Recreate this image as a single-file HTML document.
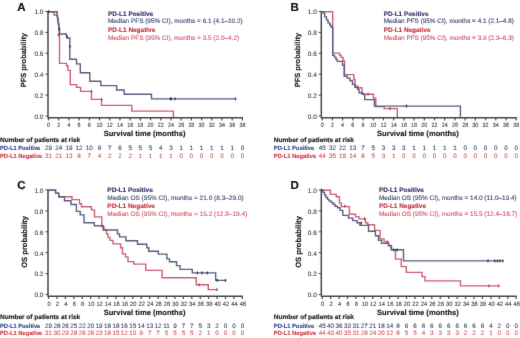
<!DOCTYPE html>
<html><head><meta charset="utf-8"><style>
html,body{margin:0;padding:0;background:#fff;width:520px;height:338px;overflow:hidden}
svg{display:block;font-family:"Liberation Sans", sans-serif;text-rendering:geometricPrecision;will-change:transform}
</style></head><body>
<svg width="520" height="338" viewBox="0 0 520 338"><defs><filter id="soft" x="0" y="0" width="520" height="338" filterUnits="userSpaceOnUse" color-interpolation-filters="sRGB"><feConvolveMatrix order="3" kernelMatrix="0.0052 0.0619 0.0052 0.0619 0.7314 0.0619 0.0052 0.0619 0.0052" edgeMode="duplicate"/></filter></defs><g filter="url(#soft)" font-family='"Liberation Sans", sans-serif'>
<rect width="520" height="338" fill="#fff"/>
<text x="17.2" y="11.3" font-size="11.5" fill="#111" stroke="#111" stroke-width="0.2" font-weight="bold">A</text>
<text transform="translate(26.2 60.1) rotate(-90)" font-size="7.4" font-weight="bold" fill="#1a1a1a" stroke="#1a1a1a" stroke-width="0.16" text-anchor="middle">PFS probability</text>
<path d="M48 10.9V117.2" stroke="#464646" stroke-width="1.5" fill="none"/>
<path d="M45.4 116H48" stroke="#464646" stroke-width="1" fill="none"/>
<text x="43.5" y="118.8" font-size="6.5" fill="#404040" stroke="#404040" stroke-width="0.1" text-anchor="end">0.0</text>
<path d="M45.4 95.1H48" stroke="#464646" stroke-width="1" fill="none"/>
<text x="43.5" y="97.9" font-size="6.5" fill="#404040" stroke="#404040" stroke-width="0.1" text-anchor="end">0.2</text>
<path d="M45.4 74.2H48" stroke="#464646" stroke-width="1" fill="none"/>
<text x="43.5" y="77" font-size="6.5" fill="#404040" stroke="#404040" stroke-width="0.1" text-anchor="end">0.4</text>
<path d="M45.4 53.3H48" stroke="#464646" stroke-width="1" fill="none"/>
<text x="43.5" y="56.1" font-size="6.5" fill="#404040" stroke="#404040" stroke-width="0.1" text-anchor="end">0.6</text>
<path d="M45.4 32.4H48" stroke="#464646" stroke-width="1" fill="none"/>
<text x="43.5" y="35.2" font-size="6.5" fill="#404040" stroke="#404040" stroke-width="0.1" text-anchor="end">0.8</text>
<path d="M45.4 11.5H48" stroke="#464646" stroke-width="1" fill="none"/>
<text x="43.5" y="14.3" font-size="6.5" fill="#404040" stroke="#404040" stroke-width="0.1" text-anchor="end">1.0</text>
<path d="M47.4 117.8H243" stroke="#464646" stroke-width="1.4" fill="none"/>
<path d="M48.5 117.8V120.4" stroke="#464646" stroke-width="1.2" fill="none"/>
<text transform="translate(48.5 127.1) scale(0.87 1)" font-size="6.2" fill="#404040" stroke="#404040" stroke-width="0.1" text-anchor="middle">0</text>
<path d="M58.71 117.8V120.4" stroke="#464646" stroke-width="1.2" fill="none"/>
<text transform="translate(58.71 127.1) scale(0.87 1)" font-size="6.2" fill="#404040" stroke="#404040" stroke-width="0.1" text-anchor="middle">2</text>
<path d="M68.91 117.8V120.4" stroke="#464646" stroke-width="1.2" fill="none"/>
<text transform="translate(68.91 127.1) scale(0.87 1)" font-size="6.2" fill="#404040" stroke="#404040" stroke-width="0.1" text-anchor="middle">4</text>
<path d="M79.12 117.8V120.4" stroke="#464646" stroke-width="1.2" fill="none"/>
<text transform="translate(79.12 127.1) scale(0.87 1)" font-size="6.2" fill="#404040" stroke="#404040" stroke-width="0.1" text-anchor="middle">6</text>
<path d="M89.32 117.8V120.4" stroke="#464646" stroke-width="1.2" fill="none"/>
<text transform="translate(89.32 127.1) scale(0.87 1)" font-size="6.2" fill="#404040" stroke="#404040" stroke-width="0.1" text-anchor="middle">8</text>
<path d="M99.53 117.8V120.4" stroke="#464646" stroke-width="1.2" fill="none"/>
<text transform="translate(99.53 127.1) scale(0.87 1)" font-size="6.2" fill="#404040" stroke="#404040" stroke-width="0.1" text-anchor="middle">10</text>
<path d="M109.73 117.8V120.4" stroke="#464646" stroke-width="1.2" fill="none"/>
<text transform="translate(109.73 127.1) scale(0.87 1)" font-size="6.2" fill="#404040" stroke="#404040" stroke-width="0.1" text-anchor="middle">12</text>
<path d="M119.94 117.8V120.4" stroke="#464646" stroke-width="1.2" fill="none"/>
<text transform="translate(119.94 127.1) scale(0.87 1)" font-size="6.2" fill="#404040" stroke="#404040" stroke-width="0.1" text-anchor="middle">14</text>
<path d="M130.14 117.8V120.4" stroke="#464646" stroke-width="1.2" fill="none"/>
<text transform="translate(130.14 127.1) scale(0.87 1)" font-size="6.2" fill="#404040" stroke="#404040" stroke-width="0.1" text-anchor="middle">16</text>
<path d="M140.35 117.8V120.4" stroke="#464646" stroke-width="1.2" fill="none"/>
<text transform="translate(140.35 127.1) scale(0.87 1)" font-size="6.2" fill="#404040" stroke="#404040" stroke-width="0.1" text-anchor="middle">18</text>
<path d="M150.55 117.8V120.4" stroke="#464646" stroke-width="1.2" fill="none"/>
<text transform="translate(150.55 127.1) scale(0.87 1)" font-size="6.2" fill="#404040" stroke="#404040" stroke-width="0.1" text-anchor="middle">20</text>
<path d="M160.76 117.8V120.4" stroke="#464646" stroke-width="1.2" fill="none"/>
<text transform="translate(160.76 127.1) scale(0.87 1)" font-size="6.2" fill="#404040" stroke="#404040" stroke-width="0.1" text-anchor="middle">22</text>
<path d="M170.96 117.8V120.4" stroke="#464646" stroke-width="1.2" fill="none"/>
<text transform="translate(170.96 127.1) scale(0.87 1)" font-size="6.2" fill="#404040" stroke="#404040" stroke-width="0.1" text-anchor="middle">24</text>
<path d="M181.17 117.8V120.4" stroke="#464646" stroke-width="1.2" fill="none"/>
<text transform="translate(181.17 127.1) scale(0.87 1)" font-size="6.2" fill="#404040" stroke="#404040" stroke-width="0.1" text-anchor="middle">26</text>
<path d="M191.37 117.8V120.4" stroke="#464646" stroke-width="1.2" fill="none"/>
<text transform="translate(191.37 127.1) scale(0.87 1)" font-size="6.2" fill="#404040" stroke="#404040" stroke-width="0.1" text-anchor="middle">28</text>
<path d="M201.58 117.8V120.4" stroke="#464646" stroke-width="1.2" fill="none"/>
<text transform="translate(201.58 127.1) scale(0.87 1)" font-size="6.2" fill="#404040" stroke="#404040" stroke-width="0.1" text-anchor="middle">30</text>
<path d="M211.78 117.8V120.4" stroke="#464646" stroke-width="1.2" fill="none"/>
<text transform="translate(211.78 127.1) scale(0.87 1)" font-size="6.2" fill="#404040" stroke="#404040" stroke-width="0.1" text-anchor="middle">32</text>
<path d="M221.99 117.8V120.4" stroke="#464646" stroke-width="1.2" fill="none"/>
<text transform="translate(221.99 127.1) scale(0.87 1)" font-size="6.2" fill="#404040" stroke="#404040" stroke-width="0.1" text-anchor="middle">34</text>
<path d="M232.19 117.8V120.4" stroke="#464646" stroke-width="1.2" fill="none"/>
<text transform="translate(232.19 127.1) scale(0.87 1)" font-size="6.2" fill="#404040" stroke="#404040" stroke-width="0.1" text-anchor="middle">36</text>
<path d="M242.4 117.8V120.4" stroke="#464646" stroke-width="1.2" fill="none"/>
<text transform="translate(242.4 127.1) scale(0.87 1)" font-size="6.2" fill="#404040" stroke="#404040" stroke-width="0.1" text-anchor="middle">38</text>
<text x="144.6" y="136.2" font-size="7.6" fill="#1a1a1a" stroke="#1a1a1a" stroke-width="0.16" font-weight="bold" text-anchor="middle">Survival time (months)</text>
<text x="108" y="15.6" font-size="6.45" fill="#2d3266" stroke="#2d3266" stroke-width="0.12" font-weight="bold">PD-L1 Positive</text>
<text x="108" y="23.3" font-size="6.45" fill="#3e4472" stroke="#3e4472" stroke-width="0.12">Median PFS (95% CI), months = 6.1 (4.1–10.2)</text>
<text x="108" y="32" font-size="6.45" fill="#c2303e" stroke="#c2303e" stroke-width="0.12" font-weight="bold">PD-L1 Negative</text>
<text x="108" y="39.6" font-size="6.45" fill="#d25466" stroke="#d25466" stroke-width="0.12">Median PFS (95% CI), months = 3.5 (2.0–4.2)</text>
<text x="0" y="141.8" font-size="6.5" fill="#1a1a1a" stroke="#1a1a1a" stroke-width="0.16" font-weight="bold">Number of patients at risk</text>
<text x="0" y="150.1" font-size="6.1" fill="#34408a" stroke="#34408a" stroke-width="0.12" font-weight="bold" textLength="40.3" lengthAdjust="spacingAndGlyphs">PD-L1 Positive</text>
<text x="0" y="157.9" font-size="6.1" fill="#cc3444" stroke="#cc3444" stroke-width="0.12" font-weight="bold" textLength="42.3" lengthAdjust="spacingAndGlyphs">PD-L1 Negative</text>
<text x="48.5" y="150.2" font-size="6.3" fill="#3e4472" stroke="#3e4472" stroke-width="0.1" text-anchor="middle">29</text>
<text x="48.5" y="158" font-size="6.3" fill="#d25466" stroke="#d25466" stroke-width="0.1" text-anchor="middle">31</text>
<text x="58.71" y="150.2" font-size="6.3" fill="#3e4472" stroke="#3e4472" stroke-width="0.1" text-anchor="middle">24</text>
<text x="58.71" y="158" font-size="6.3" fill="#d25466" stroke="#d25466" stroke-width="0.1" text-anchor="middle">21</text>
<text x="68.91" y="150.2" font-size="6.3" fill="#3e4472" stroke="#3e4472" stroke-width="0.1" text-anchor="middle">19</text>
<text x="68.91" y="158" font-size="6.3" fill="#d25466" stroke="#d25466" stroke-width="0.1" text-anchor="middle">13</text>
<text x="79.12" y="150.2" font-size="6.3" fill="#3e4472" stroke="#3e4472" stroke-width="0.1" text-anchor="middle">12</text>
<text x="79.12" y="158" font-size="6.3" fill="#d25466" stroke="#d25466" stroke-width="0.1" text-anchor="middle">8</text>
<text x="89.32" y="150.2" font-size="6.3" fill="#3e4472" stroke="#3e4472" stroke-width="0.1" text-anchor="middle">10</text>
<text x="89.32" y="158" font-size="6.3" fill="#d25466" stroke="#d25466" stroke-width="0.1" text-anchor="middle">7</text>
<text x="99.53" y="150.2" font-size="6.3" fill="#3e4472" stroke="#3e4472" stroke-width="0.1" text-anchor="middle">8</text>
<text x="99.53" y="158" font-size="6.3" fill="#d25466" stroke="#d25466" stroke-width="0.1" text-anchor="middle">4</text>
<text x="109.73" y="150.2" font-size="6.3" fill="#3e4472" stroke="#3e4472" stroke-width="0.1" text-anchor="middle">7</text>
<text x="109.73" y="158" font-size="6.3" fill="#d25466" stroke="#d25466" stroke-width="0.1" text-anchor="middle">2</text>
<text x="119.94" y="150.2" font-size="6.3" fill="#3e4472" stroke="#3e4472" stroke-width="0.1" text-anchor="middle">6</text>
<text x="119.94" y="158" font-size="6.3" fill="#d25466" stroke="#d25466" stroke-width="0.1" text-anchor="middle">2</text>
<text x="130.14" y="150.2" font-size="6.3" fill="#3e4472" stroke="#3e4472" stroke-width="0.1" text-anchor="middle">5</text>
<text x="130.14" y="158" font-size="6.3" fill="#d25466" stroke="#d25466" stroke-width="0.1" text-anchor="middle">2</text>
<text x="140.35" y="150.2" font-size="6.3" fill="#3e4472" stroke="#3e4472" stroke-width="0.1" text-anchor="middle">5</text>
<text x="140.35" y="158" font-size="6.3" fill="#d25466" stroke="#d25466" stroke-width="0.1" text-anchor="middle">1</text>
<text x="150.55" y="150.2" font-size="6.3" fill="#3e4472" stroke="#3e4472" stroke-width="0.1" text-anchor="middle">5</text>
<text x="150.55" y="158" font-size="6.3" fill="#d25466" stroke="#d25466" stroke-width="0.1" text-anchor="middle">1</text>
<text x="160.76" y="150.2" font-size="6.3" fill="#3e4472" stroke="#3e4472" stroke-width="0.1" text-anchor="middle">4</text>
<text x="160.76" y="158" font-size="6.3" fill="#d25466" stroke="#d25466" stroke-width="0.1" text-anchor="middle">1</text>
<text x="170.96" y="150.2" font-size="6.3" fill="#3e4472" stroke="#3e4472" stroke-width="0.1" text-anchor="middle">3</text>
<text x="170.96" y="158" font-size="6.3" fill="#d25466" stroke="#d25466" stroke-width="0.1" text-anchor="middle">1</text>
<text x="181.17" y="150.2" font-size="6.3" fill="#3e4472" stroke="#3e4472" stroke-width="0.1" text-anchor="middle">1</text>
<text x="181.17" y="158" font-size="6.3" fill="#d25466" stroke="#d25466" stroke-width="0.1" text-anchor="middle">0</text>
<text x="191.37" y="150.2" font-size="6.3" fill="#3e4472" stroke="#3e4472" stroke-width="0.1" text-anchor="middle">1</text>
<text x="191.37" y="158" font-size="6.3" fill="#d25466" stroke="#d25466" stroke-width="0.1" text-anchor="middle">0</text>
<text x="201.58" y="150.2" font-size="6.3" fill="#3e4472" stroke="#3e4472" stroke-width="0.1" text-anchor="middle">1</text>
<text x="201.58" y="158" font-size="6.3" fill="#d25466" stroke="#d25466" stroke-width="0.1" text-anchor="middle">0</text>
<text x="211.78" y="150.2" font-size="6.3" fill="#3e4472" stroke="#3e4472" stroke-width="0.1" text-anchor="middle">1</text>
<text x="211.78" y="158" font-size="6.3" fill="#d25466" stroke="#d25466" stroke-width="0.1" text-anchor="middle">0</text>
<text x="221.99" y="150.2" font-size="6.3" fill="#3e4472" stroke="#3e4472" stroke-width="0.1" text-anchor="middle">1</text>
<text x="221.99" y="158" font-size="6.3" fill="#d25466" stroke="#d25466" stroke-width="0.1" text-anchor="middle">0</text>
<text x="232.19" y="150.2" font-size="6.3" fill="#3e4472" stroke="#3e4472" stroke-width="0.1" text-anchor="middle">1</text>
<text x="232.19" y="158" font-size="6.3" fill="#d25466" stroke="#d25466" stroke-width="0.1" text-anchor="middle">0</text>
<text x="242.4" y="150.2" font-size="6.3" fill="#3e4472" stroke="#3e4472" stroke-width="0.1" text-anchor="middle">0</text>
<text x="242.4" y="158" font-size="6.3" fill="#d25466" stroke="#d25466" stroke-width="0.1" text-anchor="middle">0</text>
<path d="M48.2 11.7H54V15H57.2V17.4H57.8V21.4H58.4V25.4H59V29.4H59.5V63.4H66.5V65.8H68V70.4H70.3V84.6H76.5V87.4H80.6V91.4H91.5V99.4H101.5V105.4H131.8V111.1H173.4V116.9" stroke="#cb6074" stroke-width="1.4" fill="none"/>
<path d="M48.2 11.7H57.1V15.9H57.6V19.4H58.2V23.4H58.8V27.9H59.4V34H66.3V35.9H67.2V38H69.8V59.3H76.5V63.9H80.3V72.7H89.8V81.2H100.9V85.6H116.6V90H124.2V94.3H151.5V98.9H235.5" stroke="#5a5e82" stroke-width="1.4" fill="none"/>
<path d="M58.4 33.5V36.3" stroke="#b23a50" stroke-width="1.3" fill="none"/>
<path d="M91.5 90V92.8" stroke="#b23a50" stroke-width="1.3" fill="none"/>
<path d="M101.6 98V100.8" stroke="#b23a50" stroke-width="1.3" fill="none"/>
<path d="M48.6 10.3V13.1" stroke="#2c2f5c" stroke-width="1.3" fill="none"/>
<path d="M67 35.5V38.3" stroke="#2c2f5c" stroke-width="1.3" fill="none"/>
<path d="M69.8 45V47.8" stroke="#2c2f5c" stroke-width="1.3" fill="none"/>
<path d="M59.3 28V30.8" stroke="#2c2f5c" stroke-width="1.3" fill="none"/>
<path d="M170.4 97.5V100.3" stroke="#2c2f5c" stroke-width="1.3" fill="none"/>
<path d="M171.3 97.5V100.3" stroke="#2c2f5c" stroke-width="1.3" fill="none"/>
<path d="M175 97.5V100.3" stroke="#2c2f5c" stroke-width="1.3" fill="none"/>
<path d="M235.5 97.5V100.3" stroke="#2c2f5c" stroke-width="1.3" fill="none"/>
<text x="290.5" y="11.3" font-size="11.5" fill="#111" stroke="#111" stroke-width="0.2" font-weight="bold">B</text>
<text transform="translate(299.5 60.1) rotate(-90)" font-size="7.4" font-weight="bold" fill="#1a1a1a" stroke="#1a1a1a" stroke-width="0.16" text-anchor="middle">PFS probability</text>
<path d="M321.3 10.9V117.2" stroke="#464646" stroke-width="1.5" fill="none"/>
<path d="M318.7 116H321.3" stroke="#464646" stroke-width="1" fill="none"/>
<text x="316.8" y="118.8" font-size="6.5" fill="#404040" stroke="#404040" stroke-width="0.1" text-anchor="end">0.0</text>
<path d="M318.7 95.1H321.3" stroke="#464646" stroke-width="1" fill="none"/>
<text x="316.8" y="97.9" font-size="6.5" fill="#404040" stroke="#404040" stroke-width="0.1" text-anchor="end">0.2</text>
<path d="M318.7 74.2H321.3" stroke="#464646" stroke-width="1" fill="none"/>
<text x="316.8" y="77" font-size="6.5" fill="#404040" stroke="#404040" stroke-width="0.1" text-anchor="end">0.4</text>
<path d="M318.7 53.3H321.3" stroke="#464646" stroke-width="1" fill="none"/>
<text x="316.8" y="56.1" font-size="6.5" fill="#404040" stroke="#404040" stroke-width="0.1" text-anchor="end">0.6</text>
<path d="M318.7 32.4H321.3" stroke="#464646" stroke-width="1" fill="none"/>
<text x="316.8" y="35.2" font-size="6.5" fill="#404040" stroke="#404040" stroke-width="0.1" text-anchor="end">0.8</text>
<path d="M318.7 11.5H321.3" stroke="#464646" stroke-width="1" fill="none"/>
<text x="316.8" y="14.3" font-size="6.5" fill="#404040" stroke="#404040" stroke-width="0.1" text-anchor="end">1.0</text>
<path d="M320.7 117.8H516.8" stroke="#464646" stroke-width="1.4" fill="none"/>
<path d="M322.2 117.8V120.4" stroke="#464646" stroke-width="1.2" fill="none"/>
<text transform="translate(322.2 127.1) scale(0.87 1)" font-size="6.2" fill="#404040" stroke="#404040" stroke-width="0.1" text-anchor="middle">0</text>
<path d="M332.41 117.8V120.4" stroke="#464646" stroke-width="1.2" fill="none"/>
<text transform="translate(332.41 127.1) scale(0.87 1)" font-size="6.2" fill="#404040" stroke="#404040" stroke-width="0.1" text-anchor="middle">2</text>
<path d="M342.62 117.8V120.4" stroke="#464646" stroke-width="1.2" fill="none"/>
<text transform="translate(342.62 127.1) scale(0.87 1)" font-size="6.2" fill="#404040" stroke="#404040" stroke-width="0.1" text-anchor="middle">4</text>
<path d="M352.83 117.8V120.4" stroke="#464646" stroke-width="1.2" fill="none"/>
<text transform="translate(352.83 127.1) scale(0.87 1)" font-size="6.2" fill="#404040" stroke="#404040" stroke-width="0.1" text-anchor="middle">6</text>
<path d="M363.04 117.8V120.4" stroke="#464646" stroke-width="1.2" fill="none"/>
<text transform="translate(363.04 127.1) scale(0.87 1)" font-size="6.2" fill="#404040" stroke="#404040" stroke-width="0.1" text-anchor="middle">8</text>
<path d="M373.25 117.8V120.4" stroke="#464646" stroke-width="1.2" fill="none"/>
<text transform="translate(373.25 127.1) scale(0.87 1)" font-size="6.2" fill="#404040" stroke="#404040" stroke-width="0.1" text-anchor="middle">10</text>
<path d="M383.46 117.8V120.4" stroke="#464646" stroke-width="1.2" fill="none"/>
<text transform="translate(383.46 127.1) scale(0.87 1)" font-size="6.2" fill="#404040" stroke="#404040" stroke-width="0.1" text-anchor="middle">12</text>
<path d="M393.67 117.8V120.4" stroke="#464646" stroke-width="1.2" fill="none"/>
<text transform="translate(393.67 127.1) scale(0.87 1)" font-size="6.2" fill="#404040" stroke="#404040" stroke-width="0.1" text-anchor="middle">14</text>
<path d="M403.88 117.8V120.4" stroke="#464646" stroke-width="1.2" fill="none"/>
<text transform="translate(403.88 127.1) scale(0.87 1)" font-size="6.2" fill="#404040" stroke="#404040" stroke-width="0.1" text-anchor="middle">16</text>
<path d="M414.09 117.8V120.4" stroke="#464646" stroke-width="1.2" fill="none"/>
<text transform="translate(414.09 127.1) scale(0.87 1)" font-size="6.2" fill="#404040" stroke="#404040" stroke-width="0.1" text-anchor="middle">18</text>
<path d="M424.31 117.8V120.4" stroke="#464646" stroke-width="1.2" fill="none"/>
<text transform="translate(424.31 127.1) scale(0.87 1)" font-size="6.2" fill="#404040" stroke="#404040" stroke-width="0.1" text-anchor="middle">20</text>
<path d="M434.52 117.8V120.4" stroke="#464646" stroke-width="1.2" fill="none"/>
<text transform="translate(434.52 127.1) scale(0.87 1)" font-size="6.2" fill="#404040" stroke="#404040" stroke-width="0.1" text-anchor="middle">22</text>
<path d="M444.73 117.8V120.4" stroke="#464646" stroke-width="1.2" fill="none"/>
<text transform="translate(444.73 127.1) scale(0.87 1)" font-size="6.2" fill="#404040" stroke="#404040" stroke-width="0.1" text-anchor="middle">24</text>
<path d="M454.94 117.8V120.4" stroke="#464646" stroke-width="1.2" fill="none"/>
<text transform="translate(454.94 127.1) scale(0.87 1)" font-size="6.2" fill="#404040" stroke="#404040" stroke-width="0.1" text-anchor="middle">26</text>
<path d="M465.15 117.8V120.4" stroke="#464646" stroke-width="1.2" fill="none"/>
<text transform="translate(465.15 127.1) scale(0.87 1)" font-size="6.2" fill="#404040" stroke="#404040" stroke-width="0.1" text-anchor="middle">28</text>
<path d="M475.36 117.8V120.4" stroke="#464646" stroke-width="1.2" fill="none"/>
<text transform="translate(475.36 127.1) scale(0.87 1)" font-size="6.2" fill="#404040" stroke="#404040" stroke-width="0.1" text-anchor="middle">30</text>
<path d="M485.57 117.8V120.4" stroke="#464646" stroke-width="1.2" fill="none"/>
<text transform="translate(485.57 127.1) scale(0.87 1)" font-size="6.2" fill="#404040" stroke="#404040" stroke-width="0.1" text-anchor="middle">32</text>
<path d="M495.78 117.8V120.4" stroke="#464646" stroke-width="1.2" fill="none"/>
<text transform="translate(495.78 127.1) scale(0.87 1)" font-size="6.2" fill="#404040" stroke="#404040" stroke-width="0.1" text-anchor="middle">34</text>
<path d="M505.99 117.8V120.4" stroke="#464646" stroke-width="1.2" fill="none"/>
<text transform="translate(505.99 127.1) scale(0.87 1)" font-size="6.2" fill="#404040" stroke="#404040" stroke-width="0.1" text-anchor="middle">36</text>
<path d="M516.2 117.8V120.4" stroke="#464646" stroke-width="1.2" fill="none"/>
<text transform="translate(516.2 127.1) scale(0.87 1)" font-size="6.2" fill="#404040" stroke="#404040" stroke-width="0.1" text-anchor="middle">38</text>
<text x="417.9" y="136.2" font-size="7.6" fill="#1a1a1a" stroke="#1a1a1a" stroke-width="0.16" font-weight="bold" text-anchor="middle">Survival time (months)</text>
<text x="383.7" y="15.6" font-size="6.4" fill="#2d3266" stroke="#2d3266" stroke-width="0.12" font-weight="bold">PD-L1 Positive</text>
<text x="383.7" y="23.3" font-size="6.4" fill="#3e4472" stroke="#3e4472" stroke-width="0.12">Median PFS (95% CI), months = 4.1 (2.1–4.8)</text>
<text x="383.7" y="32" font-size="6.4" fill="#c2303e" stroke="#c2303e" stroke-width="0.12" font-weight="bold">PD-L1 Negative</text>
<text x="383.7" y="39.6" font-size="6.4" fill="#d25466" stroke="#d25466" stroke-width="0.12">Median PFS (95% CI), months = 3.9 (2.3–6.3)</text>
<text x="273.8" y="141.8" font-size="6.5" fill="#1a1a1a" stroke="#1a1a1a" stroke-width="0.16" font-weight="bold">Number of patients at risk</text>
<text x="273.8" y="150.1" font-size="6.1" fill="#34408a" stroke="#34408a" stroke-width="0.12" font-weight="bold" textLength="40.3" lengthAdjust="spacingAndGlyphs">PD-L1 Positive</text>
<text x="273.8" y="157.9" font-size="6.1" fill="#cc3444" stroke="#cc3444" stroke-width="0.12" font-weight="bold" textLength="42.3" lengthAdjust="spacingAndGlyphs">PD-L1 Negative</text>
<text x="322.2" y="150.2" font-size="6.3" fill="#3e4472" stroke="#3e4472" stroke-width="0.1" text-anchor="middle">45</text>
<text x="322.2" y="158" font-size="6.3" fill="#d25466" stroke="#d25466" stroke-width="0.1" text-anchor="middle">44</text>
<text x="332.41" y="150.2" font-size="6.3" fill="#3e4472" stroke="#3e4472" stroke-width="0.1" text-anchor="middle">32</text>
<text x="332.41" y="158" font-size="6.3" fill="#d25466" stroke="#d25466" stroke-width="0.1" text-anchor="middle">35</text>
<text x="342.62" y="150.2" font-size="6.3" fill="#3e4472" stroke="#3e4472" stroke-width="0.1" text-anchor="middle">22</text>
<text x="342.62" y="158" font-size="6.3" fill="#d25466" stroke="#d25466" stroke-width="0.1" text-anchor="middle">19</text>
<text x="352.83" y="150.2" font-size="6.3" fill="#3e4472" stroke="#3e4472" stroke-width="0.1" text-anchor="middle">13</text>
<text x="352.83" y="158" font-size="6.3" fill="#d25466" stroke="#d25466" stroke-width="0.1" text-anchor="middle">14</text>
<text x="363.04" y="150.2" font-size="6.3" fill="#3e4472" stroke="#3e4472" stroke-width="0.1" text-anchor="middle">7</text>
<text x="363.04" y="158" font-size="6.3" fill="#d25466" stroke="#d25466" stroke-width="0.1" text-anchor="middle">8</text>
<text x="373.25" y="150.2" font-size="6.3" fill="#3e4472" stroke="#3e4472" stroke-width="0.1" text-anchor="middle">5</text>
<text x="373.25" y="158" font-size="6.3" fill="#d25466" stroke="#d25466" stroke-width="0.1" text-anchor="middle">5</text>
<text x="383.46" y="150.2" font-size="6.3" fill="#3e4472" stroke="#3e4472" stroke-width="0.1" text-anchor="middle">3</text>
<text x="383.46" y="158" font-size="6.3" fill="#d25466" stroke="#d25466" stroke-width="0.1" text-anchor="middle">3</text>
<text x="393.67" y="150.2" font-size="6.3" fill="#3e4472" stroke="#3e4472" stroke-width="0.1" text-anchor="middle">3</text>
<text x="393.67" y="158" font-size="6.3" fill="#d25466" stroke="#d25466" stroke-width="0.1" text-anchor="middle">1</text>
<text x="403.88" y="150.2" font-size="6.3" fill="#3e4472" stroke="#3e4472" stroke-width="0.1" text-anchor="middle">3</text>
<text x="403.88" y="158" font-size="6.3" fill="#d25466" stroke="#d25466" stroke-width="0.1" text-anchor="middle">0</text>
<text x="414.09" y="150.2" font-size="6.3" fill="#3e4472" stroke="#3e4472" stroke-width="0.1" text-anchor="middle">1</text>
<text x="414.09" y="158" font-size="6.3" fill="#d25466" stroke="#d25466" stroke-width="0.1" text-anchor="middle">0</text>
<text x="424.31" y="150.2" font-size="6.3" fill="#3e4472" stroke="#3e4472" stroke-width="0.1" text-anchor="middle">1</text>
<text x="424.31" y="158" font-size="6.3" fill="#d25466" stroke="#d25466" stroke-width="0.1" text-anchor="middle">0</text>
<text x="434.52" y="150.2" font-size="6.3" fill="#3e4472" stroke="#3e4472" stroke-width="0.1" text-anchor="middle">1</text>
<text x="434.52" y="158" font-size="6.3" fill="#d25466" stroke="#d25466" stroke-width="0.1" text-anchor="middle">0</text>
<text x="444.73" y="150.2" font-size="6.3" fill="#3e4472" stroke="#3e4472" stroke-width="0.1" text-anchor="middle">1</text>
<text x="444.73" y="158" font-size="6.3" fill="#d25466" stroke="#d25466" stroke-width="0.1" text-anchor="middle">0</text>
<text x="454.94" y="150.2" font-size="6.3" fill="#3e4472" stroke="#3e4472" stroke-width="0.1" text-anchor="middle">1</text>
<text x="454.94" y="158" font-size="6.3" fill="#d25466" stroke="#d25466" stroke-width="0.1" text-anchor="middle">0</text>
<text x="465.15" y="150.2" font-size="6.3" fill="#3e4472" stroke="#3e4472" stroke-width="0.1" text-anchor="middle">0</text>
<text x="465.15" y="158" font-size="6.3" fill="#d25466" stroke="#d25466" stroke-width="0.1" text-anchor="middle">0</text>
<text x="475.36" y="150.2" font-size="6.3" fill="#3e4472" stroke="#3e4472" stroke-width="0.1" text-anchor="middle">0</text>
<text x="475.36" y="158" font-size="6.3" fill="#d25466" stroke="#d25466" stroke-width="0.1" text-anchor="middle">0</text>
<text x="485.57" y="150.2" font-size="6.3" fill="#3e4472" stroke="#3e4472" stroke-width="0.1" text-anchor="middle">0</text>
<text x="485.57" y="158" font-size="6.3" fill="#d25466" stroke="#d25466" stroke-width="0.1" text-anchor="middle">0</text>
<text x="495.78" y="150.2" font-size="6.3" fill="#3e4472" stroke="#3e4472" stroke-width="0.1" text-anchor="middle">0</text>
<text x="495.78" y="158" font-size="6.3" fill="#d25466" stroke="#d25466" stroke-width="0.1" text-anchor="middle">0</text>
<text x="505.99" y="150.2" font-size="6.3" fill="#3e4472" stroke="#3e4472" stroke-width="0.1" text-anchor="middle">0</text>
<text x="505.99" y="158" font-size="6.3" fill="#d25466" stroke="#d25466" stroke-width="0.1" text-anchor="middle">0</text>
<text x="516.2" y="150.2" font-size="6.3" fill="#3e4472" stroke="#3e4472" stroke-width="0.1" text-anchor="middle">0</text>
<text x="516.2" y="158" font-size="6.3" fill="#d25466" stroke="#d25466" stroke-width="0.1" text-anchor="middle">0</text>
<path d="M321.4 11.7H332.7V53.1H339.6V55.2H341V57.4H343V60.8H344.5V74.6H353.8V79.4H355V86.2H358V87.7H362V94.2H373.5V98.1H375.8V106.6H384.2V108.6H397.3V116.9" stroke="#cb6074" stroke-width="1.4" fill="none"/>
<path d="M321.4 11.7H323.5V13.4H324.8V16.9H326.5V19.9H328V22.9H329.8V25.4H331.2V27.4H332.7V55.4H334.5V57.4H336V59.4H337.2V61.4H342.5V65.4H344.2V76.2H347.3V78.1H350V80.8H352.5V84.4H355V87.4H357.5V89.2H359V92.7H362.7V94.4H364.7V99.6H374.4V106.1H460.4V116.7" stroke="#5a5e82" stroke-width="1.4" fill="none"/>
<path d="M368 92.8V95.6" stroke="#b23a50" stroke-width="1.3" fill="none"/>
<path d="M390 107.2V110" stroke="#b23a50" stroke-width="1.3" fill="none"/>
<path d="M406.5 104.7V107.5" stroke="#2c2f5c" stroke-width="1.3" fill="none"/>
<text x="17.2" y="189.4" font-size="11.5" fill="#111" stroke="#111" stroke-width="0.2" font-weight="bold">C</text>
<text transform="translate(27.4 241.85) rotate(-90)" font-size="7.6" font-weight="bold" fill="#1a1a1a" stroke="#1a1a1a" stroke-width="0.16" text-anchor="middle">OS probability</text>
<path d="M48 189.4V295.7" stroke="#464646" stroke-width="1.5" fill="none"/>
<path d="M45.4 294.5H48" stroke="#464646" stroke-width="1" fill="none"/>
<text x="43.5" y="297.3" font-size="6.5" fill="#404040" stroke="#404040" stroke-width="0.1" text-anchor="end">0.0</text>
<path d="M45.4 273.6H48" stroke="#464646" stroke-width="1" fill="none"/>
<text x="43.5" y="276.4" font-size="6.5" fill="#404040" stroke="#404040" stroke-width="0.1" text-anchor="end">0.2</text>
<path d="M45.4 252.7H48" stroke="#464646" stroke-width="1" fill="none"/>
<text x="43.5" y="255.5" font-size="6.5" fill="#404040" stroke="#404040" stroke-width="0.1" text-anchor="end">0.4</text>
<path d="M45.4 231.8H48" stroke="#464646" stroke-width="1" fill="none"/>
<text x="43.5" y="234.6" font-size="6.5" fill="#404040" stroke="#404040" stroke-width="0.1" text-anchor="end">0.6</text>
<path d="M45.4 210.9H48" stroke="#464646" stroke-width="1" fill="none"/>
<text x="43.5" y="213.7" font-size="6.5" fill="#404040" stroke="#404040" stroke-width="0.1" text-anchor="end">0.8</text>
<path d="M45.4 190H48" stroke="#464646" stroke-width="1" fill="none"/>
<text x="43.5" y="192.8" font-size="6.5" fill="#404040" stroke="#404040" stroke-width="0.1" text-anchor="end">1.0</text>
<path d="M47.4 296.3H243" stroke="#464646" stroke-width="1.4" fill="none"/>
<path d="M48.5 296.3V298.9" stroke="#464646" stroke-width="1.2" fill="none"/>
<text transform="translate(49 305.6) scale(0.93 1)" font-size="6.2" fill="#404040" stroke="#404040" stroke-width="0.1" text-anchor="middle">0</text>
<path d="M56.93 296.3V298.9" stroke="#464646" stroke-width="1.2" fill="none"/>
<text transform="translate(57.43 305.6) scale(0.93 1)" font-size="6.2" fill="#404040" stroke="#404040" stroke-width="0.1" text-anchor="middle">2</text>
<path d="M65.36 296.3V298.9" stroke="#464646" stroke-width="1.2" fill="none"/>
<text transform="translate(65.86 305.6) scale(0.93 1)" font-size="6.2" fill="#404040" stroke="#404040" stroke-width="0.1" text-anchor="middle">4</text>
<path d="M73.79 296.3V298.9" stroke="#464646" stroke-width="1.2" fill="none"/>
<text transform="translate(74.29 305.6) scale(0.93 1)" font-size="6.2" fill="#404040" stroke="#404040" stroke-width="0.1" text-anchor="middle">6</text>
<path d="M82.22 296.3V298.9" stroke="#464646" stroke-width="1.2" fill="none"/>
<text transform="translate(82.72 305.6) scale(0.93 1)" font-size="6.2" fill="#404040" stroke="#404040" stroke-width="0.1" text-anchor="middle">8</text>
<path d="M90.65 296.3V298.9" stroke="#464646" stroke-width="1.2" fill="none"/>
<text transform="translate(91.15 305.6) scale(0.93 1)" font-size="6.2" fill="#404040" stroke="#404040" stroke-width="0.1" text-anchor="middle">10</text>
<path d="M99.08 296.3V298.9" stroke="#464646" stroke-width="1.2" fill="none"/>
<text transform="translate(99.58 305.6) scale(0.93 1)" font-size="6.2" fill="#404040" stroke="#404040" stroke-width="0.1" text-anchor="middle">12</text>
<path d="M107.51 296.3V298.9" stroke="#464646" stroke-width="1.2" fill="none"/>
<text transform="translate(108.01 305.6) scale(0.93 1)" font-size="6.2" fill="#404040" stroke="#404040" stroke-width="0.1" text-anchor="middle">14</text>
<path d="M115.94 296.3V298.9" stroke="#464646" stroke-width="1.2" fill="none"/>
<text transform="translate(116.44 305.6) scale(0.93 1)" font-size="6.2" fill="#404040" stroke="#404040" stroke-width="0.1" text-anchor="middle">16</text>
<path d="M124.37 296.3V298.9" stroke="#464646" stroke-width="1.2" fill="none"/>
<text transform="translate(124.87 305.6) scale(0.93 1)" font-size="6.2" fill="#404040" stroke="#404040" stroke-width="0.1" text-anchor="middle">18</text>
<path d="M132.8 296.3V298.9" stroke="#464646" stroke-width="1.2" fill="none"/>
<text transform="translate(133.3 305.6) scale(0.93 1)" font-size="6.2" fill="#404040" stroke="#404040" stroke-width="0.1" text-anchor="middle">20</text>
<path d="M141.23 296.3V298.9" stroke="#464646" stroke-width="1.2" fill="none"/>
<text transform="translate(141.73 305.6) scale(0.93 1)" font-size="6.2" fill="#404040" stroke="#404040" stroke-width="0.1" text-anchor="middle">22</text>
<path d="M149.67 296.3V298.9" stroke="#464646" stroke-width="1.2" fill="none"/>
<text transform="translate(150.17 305.6) scale(0.93 1)" font-size="6.2" fill="#404040" stroke="#404040" stroke-width="0.1" text-anchor="middle">24</text>
<path d="M158.1 296.3V298.9" stroke="#464646" stroke-width="1.2" fill="none"/>
<text transform="translate(158.6 305.6) scale(0.93 1)" font-size="6.2" fill="#404040" stroke="#404040" stroke-width="0.1" text-anchor="middle">26</text>
<path d="M166.53 296.3V298.9" stroke="#464646" stroke-width="1.2" fill="none"/>
<text transform="translate(167.03 305.6) scale(0.93 1)" font-size="6.2" fill="#404040" stroke="#404040" stroke-width="0.1" text-anchor="middle">28</text>
<path d="M174.96 296.3V298.9" stroke="#464646" stroke-width="1.2" fill="none"/>
<text transform="translate(175.46 305.6) scale(0.93 1)" font-size="6.2" fill="#404040" stroke="#404040" stroke-width="0.1" text-anchor="middle">30</text>
<path d="M183.39 296.3V298.9" stroke="#464646" stroke-width="1.2" fill="none"/>
<text transform="translate(183.89 305.6) scale(0.93 1)" font-size="6.2" fill="#404040" stroke="#404040" stroke-width="0.1" text-anchor="middle">32</text>
<path d="M191.82 296.3V298.9" stroke="#464646" stroke-width="1.2" fill="none"/>
<text transform="translate(192.32 305.6) scale(0.93 1)" font-size="6.2" fill="#404040" stroke="#404040" stroke-width="0.1" text-anchor="middle">34</text>
<path d="M200.25 296.3V298.9" stroke="#464646" stroke-width="1.2" fill="none"/>
<text transform="translate(200.75 305.6) scale(0.93 1)" font-size="6.2" fill="#404040" stroke="#404040" stroke-width="0.1" text-anchor="middle">36</text>
<path d="M208.68 296.3V298.9" stroke="#464646" stroke-width="1.2" fill="none"/>
<text transform="translate(209.18 305.6) scale(0.93 1)" font-size="6.2" fill="#404040" stroke="#404040" stroke-width="0.1" text-anchor="middle">38</text>
<path d="M217.11 296.3V298.9" stroke="#464646" stroke-width="1.2" fill="none"/>
<text transform="translate(217.61 305.6) scale(0.93 1)" font-size="6.2" fill="#404040" stroke="#404040" stroke-width="0.1" text-anchor="middle">40</text>
<path d="M225.54 296.3V298.9" stroke="#464646" stroke-width="1.2" fill="none"/>
<text transform="translate(226.04 305.6) scale(0.93 1)" font-size="6.2" fill="#404040" stroke="#404040" stroke-width="0.1" text-anchor="middle">42</text>
<path d="M233.97 296.3V298.9" stroke="#464646" stroke-width="1.2" fill="none"/>
<text transform="translate(234.47 305.6) scale(0.93 1)" font-size="6.2" fill="#404040" stroke="#404040" stroke-width="0.1" text-anchor="middle">44</text>
<path d="M242.4 296.3V298.9" stroke="#464646" stroke-width="1.2" fill="none"/>
<text transform="translate(242.9 305.6) scale(0.93 1)" font-size="6.2" fill="#404040" stroke="#404040" stroke-width="0.1" text-anchor="middle">46</text>
<text x="144.6" y="314.7" font-size="7.6" fill="#1a1a1a" stroke="#1a1a1a" stroke-width="0.16" font-weight="bold" text-anchor="middle">Survival time (months)</text>
<text x="107.3" y="191.8" font-size="6.5" fill="#2d3266" stroke="#2d3266" stroke-width="0.12" font-weight="bold">PD-L1 Positive</text>
<text x="107.3" y="199.5" font-size="6.5" fill="#3e4472" stroke="#3e4472" stroke-width="0.12">Median OS (95% CI), months = 21.0 (8.3–29.0)</text>
<text x="107.3" y="208.2" font-size="6.5" fill="#c2303e" stroke="#c2303e" stroke-width="0.12" font-weight="bold">PD-L1 Negative</text>
<text x="107.3" y="215.8" font-size="6.5" fill="#d25466" stroke="#d25466" stroke-width="0.12">Median OS (95% CI), months = 15.2 (12.8–19.4)</text>
<text x="0" y="319.2" font-size="6.5" fill="#1a1a1a" stroke="#1a1a1a" stroke-width="0.16" font-weight="bold">Number of patients at risk</text>
<text x="0" y="327.5" font-size="6.1" fill="#34408a" stroke="#34408a" stroke-width="0.12" font-weight="bold" textLength="40.3" lengthAdjust="spacingAndGlyphs">PD-L1 Positive</text>
<text x="0" y="335.3" font-size="6.1" fill="#cc3444" stroke="#cc3444" stroke-width="0.12" font-weight="bold" textLength="42.3" lengthAdjust="spacingAndGlyphs">PD-L1 Negative</text>
<text x="48.5" y="327.6" font-size="6.3" fill="#3e4472" stroke="#3e4472" stroke-width="0.1" text-anchor="middle">29</text>
<text x="48.5" y="335.4" font-size="6.3" fill="#d25466" stroke="#d25466" stroke-width="0.1" text-anchor="middle">31</text>
<text x="56.93" y="327.6" font-size="6.3" fill="#3e4472" stroke="#3e4472" stroke-width="0.1" text-anchor="middle">28</text>
<text x="56.93" y="335.4" font-size="6.3" fill="#d25466" stroke="#d25466" stroke-width="0.1" text-anchor="middle">30</text>
<text x="65.36" y="327.6" font-size="6.3" fill="#3e4472" stroke="#3e4472" stroke-width="0.1" text-anchor="middle">26</text>
<text x="65.36" y="335.4" font-size="6.3" fill="#d25466" stroke="#d25466" stroke-width="0.1" text-anchor="middle">29</text>
<text x="73.79" y="327.6" font-size="6.3" fill="#3e4472" stroke="#3e4472" stroke-width="0.1" text-anchor="middle">25</text>
<text x="73.79" y="335.4" font-size="6.3" fill="#d25466" stroke="#d25466" stroke-width="0.1" text-anchor="middle">28</text>
<text x="82.22" y="327.6" font-size="6.3" fill="#3e4472" stroke="#3e4472" stroke-width="0.1" text-anchor="middle">22</text>
<text x="82.22" y="335.4" font-size="6.3" fill="#d25466" stroke="#d25466" stroke-width="0.1" text-anchor="middle">26</text>
<text x="90.65" y="327.6" font-size="6.3" fill="#3e4472" stroke="#3e4472" stroke-width="0.1" text-anchor="middle">20</text>
<text x="90.65" y="335.4" font-size="6.3" fill="#d25466" stroke="#d25466" stroke-width="0.1" text-anchor="middle">26</text>
<text x="99.08" y="327.6" font-size="6.3" fill="#3e4472" stroke="#3e4472" stroke-width="0.1" text-anchor="middle">19</text>
<text x="99.08" y="335.4" font-size="6.3" fill="#d25466" stroke="#d25466" stroke-width="0.1" text-anchor="middle">23</text>
<text x="107.51" y="327.6" font-size="6.3" fill="#3e4472" stroke="#3e4472" stroke-width="0.1" text-anchor="middle">18</text>
<text x="107.51" y="335.4" font-size="6.3" fill="#d25466" stroke="#d25466" stroke-width="0.1" text-anchor="middle">18</text>
<text x="115.94" y="327.6" font-size="6.3" fill="#3e4472" stroke="#3e4472" stroke-width="0.1" text-anchor="middle">18</text>
<text x="115.94" y="335.4" font-size="6.3" fill="#d25466" stroke="#d25466" stroke-width="0.1" text-anchor="middle">15</text>
<text x="124.37" y="327.6" font-size="6.3" fill="#3e4472" stroke="#3e4472" stroke-width="0.1" text-anchor="middle">16</text>
<text x="124.37" y="335.4" font-size="6.3" fill="#d25466" stroke="#d25466" stroke-width="0.1" text-anchor="middle">12</text>
<text x="132.8" y="327.6" font-size="6.3" fill="#3e4472" stroke="#3e4472" stroke-width="0.1" text-anchor="middle">15</text>
<text x="132.8" y="335.4" font-size="6.3" fill="#d25466" stroke="#d25466" stroke-width="0.1" text-anchor="middle">10</text>
<text x="141.23" y="327.6" font-size="6.3" fill="#3e4472" stroke="#3e4472" stroke-width="0.1" text-anchor="middle">14</text>
<text x="141.23" y="335.4" font-size="6.3" fill="#d25466" stroke="#d25466" stroke-width="0.1" text-anchor="middle">9</text>
<text x="149.67" y="327.6" font-size="6.3" fill="#3e4472" stroke="#3e4472" stroke-width="0.1" text-anchor="middle">13</text>
<text x="149.67" y="335.4" font-size="6.3" fill="#d25466" stroke="#d25466" stroke-width="0.1" text-anchor="middle">7</text>
<text x="158.1" y="327.6" font-size="6.3" fill="#3e4472" stroke="#3e4472" stroke-width="0.1" text-anchor="middle">12</text>
<text x="158.1" y="335.4" font-size="6.3" fill="#d25466" stroke="#d25466" stroke-width="0.1" text-anchor="middle">7</text>
<text x="166.53" y="327.6" font-size="6.3" fill="#3e4472" stroke="#3e4472" stroke-width="0.1" text-anchor="middle">11</text>
<text x="166.53" y="335.4" font-size="6.3" fill="#d25466" stroke="#d25466" stroke-width="0.1" text-anchor="middle">5</text>
<text x="174.96" y="327.6" font-size="6.3" fill="#3e4472" stroke="#3e4472" stroke-width="0.1" text-anchor="middle">9</text>
<text x="174.96" y="335.4" font-size="6.3" fill="#d25466" stroke="#d25466" stroke-width="0.1" text-anchor="middle">5</text>
<text x="183.39" y="327.6" font-size="6.3" fill="#3e4472" stroke="#3e4472" stroke-width="0.1" text-anchor="middle">7</text>
<text x="183.39" y="335.4" font-size="6.3" fill="#d25466" stroke="#d25466" stroke-width="0.1" text-anchor="middle">5</text>
<text x="191.82" y="327.6" font-size="6.3" fill="#3e4472" stroke="#3e4472" stroke-width="0.1" text-anchor="middle">7</text>
<text x="191.82" y="335.4" font-size="6.3" fill="#d25466" stroke="#d25466" stroke-width="0.1" text-anchor="middle">5</text>
<text x="200.25" y="327.6" font-size="6.3" fill="#3e4472" stroke="#3e4472" stroke-width="0.1" text-anchor="middle">5</text>
<text x="200.25" y="335.4" font-size="6.3" fill="#d25466" stroke="#d25466" stroke-width="0.1" text-anchor="middle">2</text>
<text x="208.68" y="327.6" font-size="6.3" fill="#3e4472" stroke="#3e4472" stroke-width="0.1" text-anchor="middle">3</text>
<text x="208.68" y="335.4" font-size="6.3" fill="#d25466" stroke="#d25466" stroke-width="0.1" text-anchor="middle">1</text>
<text x="217.11" y="327.6" font-size="6.3" fill="#3e4472" stroke="#3e4472" stroke-width="0.1" text-anchor="middle">2</text>
<text x="217.11" y="335.4" font-size="6.3" fill="#d25466" stroke="#d25466" stroke-width="0.1" text-anchor="middle">0</text>
<text x="225.54" y="327.6" font-size="6.3" fill="#3e4472" stroke="#3e4472" stroke-width="0.1" text-anchor="middle">0</text>
<text x="225.54" y="335.4" font-size="6.3" fill="#d25466" stroke="#d25466" stroke-width="0.1" text-anchor="middle">0</text>
<text x="233.97" y="327.6" font-size="6.3" fill="#3e4472" stroke="#3e4472" stroke-width="0.1" text-anchor="middle">0</text>
<text x="233.97" y="335.4" font-size="6.3" fill="#d25466" stroke="#d25466" stroke-width="0.1" text-anchor="middle">0</text>
<text x="242.4" y="327.6" font-size="6.3" fill="#3e4472" stroke="#3e4472" stroke-width="0.1" text-anchor="middle">0</text>
<text x="242.4" y="335.4" font-size="6.3" fill="#d25466" stroke="#d25466" stroke-width="0.1" text-anchor="middle">0</text>
<path d="M48.2 190.2H55.6V193.1H58.7V196.7H72V199.6H79.5V203.8H81.4V206.8H91.4V209.9H94.5V216.9H101.8V226.9H104V230H106.5V233.9H108V237.4H110V240.4H113V243.9H120.6V247.7H122.5V253.9H125.5V256.9H128V261.6H133.7V264.1H145.8V270.4H162.1V277.7H196.2V284.8H208.3V289.6H216.9" stroke="#cb6074" stroke-width="1.4" fill="none"/>
<path d="M48.2 190.2H55.6V193.1H58.7V196.7H64.5V200.7H71V204.5H76.4V211.4H80.2V214.9H84V222.7H94.3V225.8H103.2V230H117.5V233.9H119.5V236.9H126V240.8H137.5V244.3H146.8V247.7H148.8V251.2H158.3V254.1H166.9V258.9H169.5V261.7H176.5V265.6H180V269.4H192.3V272.9H215.7V280.4H225.5" stroke="#5a5e82" stroke-width="1.4" fill="none"/>
<path d="M199.2 283.4V286.2" stroke="#b23a50" stroke-width="1.3" fill="none"/>
<path d="M216.9 288.2V291" stroke="#b23a50" stroke-width="1.3" fill="none"/>
<path d="M197.4 271.5V274.3" stroke="#2c2f5c" stroke-width="1.3" fill="none"/>
<path d="M202 271.5V274.3" stroke="#2c2f5c" stroke-width="1.3" fill="none"/>
<path d="M207.4 271.5V274.3" stroke="#2c2f5c" stroke-width="1.3" fill="none"/>
<path d="M217.3 279V281.8" stroke="#2c2f5c" stroke-width="1.3" fill="none"/>
<path d="M225.5 279V281.8" stroke="#2c2f5c" stroke-width="1.3" fill="none"/>
<text x="290.5" y="189.4" font-size="11.5" fill="#111" stroke="#111" stroke-width="0.2" font-weight="bold">D</text>
<text transform="translate(300.7 241.85) rotate(-90)" font-size="7.6" font-weight="bold" fill="#1a1a1a" stroke="#1a1a1a" stroke-width="0.16" text-anchor="middle">OS probability</text>
<path d="M321.3 189.4V295.7" stroke="#464646" stroke-width="1.5" fill="none"/>
<path d="M318.7 294.5H321.3" stroke="#464646" stroke-width="1" fill="none"/>
<text x="316.8" y="297.3" font-size="6.5" fill="#404040" stroke="#404040" stroke-width="0.1" text-anchor="end">0.0</text>
<path d="M318.7 273.6H321.3" stroke="#464646" stroke-width="1" fill="none"/>
<text x="316.8" y="276.4" font-size="6.5" fill="#404040" stroke="#404040" stroke-width="0.1" text-anchor="end">0.2</text>
<path d="M318.7 252.7H321.3" stroke="#464646" stroke-width="1" fill="none"/>
<text x="316.8" y="255.5" font-size="6.5" fill="#404040" stroke="#404040" stroke-width="0.1" text-anchor="end">0.4</text>
<path d="M318.7 231.8H321.3" stroke="#464646" stroke-width="1" fill="none"/>
<text x="316.8" y="234.6" font-size="6.5" fill="#404040" stroke="#404040" stroke-width="0.1" text-anchor="end">0.6</text>
<path d="M318.7 210.9H321.3" stroke="#464646" stroke-width="1" fill="none"/>
<text x="316.8" y="213.7" font-size="6.5" fill="#404040" stroke="#404040" stroke-width="0.1" text-anchor="end">0.8</text>
<path d="M318.7 190H321.3" stroke="#464646" stroke-width="1" fill="none"/>
<text x="316.8" y="192.8" font-size="6.5" fill="#404040" stroke="#404040" stroke-width="0.1" text-anchor="end">1.0</text>
<path d="M320.7 296.3H516.8" stroke="#464646" stroke-width="1.4" fill="none"/>
<path d="M322.2 296.3V298.9" stroke="#464646" stroke-width="1.2" fill="none"/>
<text transform="translate(322.7 305.6) scale(0.93 1)" font-size="6.2" fill="#404040" stroke="#404040" stroke-width="0.1" text-anchor="middle">0</text>
<path d="M330.63 296.3V298.9" stroke="#464646" stroke-width="1.2" fill="none"/>
<text transform="translate(331.13 305.6) scale(0.93 1)" font-size="6.2" fill="#404040" stroke="#404040" stroke-width="0.1" text-anchor="middle">2</text>
<path d="M339.07 296.3V298.9" stroke="#464646" stroke-width="1.2" fill="none"/>
<text transform="translate(339.57 305.6) scale(0.93 1)" font-size="6.2" fill="#404040" stroke="#404040" stroke-width="0.1" text-anchor="middle">4</text>
<path d="M347.5 296.3V298.9" stroke="#464646" stroke-width="1.2" fill="none"/>
<text transform="translate(348 305.6) scale(0.93 1)" font-size="6.2" fill="#404040" stroke="#404040" stroke-width="0.1" text-anchor="middle">6</text>
<path d="M355.94 296.3V298.9" stroke="#464646" stroke-width="1.2" fill="none"/>
<text transform="translate(356.44 305.6) scale(0.93 1)" font-size="6.2" fill="#404040" stroke="#404040" stroke-width="0.1" text-anchor="middle">8</text>
<path d="M364.37 296.3V298.9" stroke="#464646" stroke-width="1.2" fill="none"/>
<text transform="translate(364.87 305.6) scale(0.93 1)" font-size="6.2" fill="#404040" stroke="#404040" stroke-width="0.1" text-anchor="middle">10</text>
<path d="M372.81 296.3V298.9" stroke="#464646" stroke-width="1.2" fill="none"/>
<text transform="translate(373.31 305.6) scale(0.93 1)" font-size="6.2" fill="#404040" stroke="#404040" stroke-width="0.1" text-anchor="middle">12</text>
<path d="M381.24 296.3V298.9" stroke="#464646" stroke-width="1.2" fill="none"/>
<text transform="translate(381.74 305.6) scale(0.93 1)" font-size="6.2" fill="#404040" stroke="#404040" stroke-width="0.1" text-anchor="middle">14</text>
<path d="M389.68 296.3V298.9" stroke="#464646" stroke-width="1.2" fill="none"/>
<text transform="translate(390.18 305.6) scale(0.93 1)" font-size="6.2" fill="#404040" stroke="#404040" stroke-width="0.1" text-anchor="middle">16</text>
<path d="M398.11 296.3V298.9" stroke="#464646" stroke-width="1.2" fill="none"/>
<text transform="translate(398.61 305.6) scale(0.93 1)" font-size="6.2" fill="#404040" stroke="#404040" stroke-width="0.1" text-anchor="middle">18</text>
<path d="M406.55 296.3V298.9" stroke="#464646" stroke-width="1.2" fill="none"/>
<text transform="translate(407.05 305.6) scale(0.93 1)" font-size="6.2" fill="#404040" stroke="#404040" stroke-width="0.1" text-anchor="middle">20</text>
<path d="M414.98 296.3V298.9" stroke="#464646" stroke-width="1.2" fill="none"/>
<text transform="translate(415.48 305.6) scale(0.93 1)" font-size="6.2" fill="#404040" stroke="#404040" stroke-width="0.1" text-anchor="middle">22</text>
<path d="M423.42 296.3V298.9" stroke="#464646" stroke-width="1.2" fill="none"/>
<text transform="translate(423.92 305.6) scale(0.93 1)" font-size="6.2" fill="#404040" stroke="#404040" stroke-width="0.1" text-anchor="middle">24</text>
<path d="M431.85 296.3V298.9" stroke="#464646" stroke-width="1.2" fill="none"/>
<text transform="translate(432.35 305.6) scale(0.93 1)" font-size="6.2" fill="#404040" stroke="#404040" stroke-width="0.1" text-anchor="middle">26</text>
<path d="M440.29 296.3V298.9" stroke="#464646" stroke-width="1.2" fill="none"/>
<text transform="translate(440.79 305.6) scale(0.93 1)" font-size="6.2" fill="#404040" stroke="#404040" stroke-width="0.1" text-anchor="middle">28</text>
<path d="M448.72 296.3V298.9" stroke="#464646" stroke-width="1.2" fill="none"/>
<text transform="translate(449.22 305.6) scale(0.93 1)" font-size="6.2" fill="#404040" stroke="#404040" stroke-width="0.1" text-anchor="middle">30</text>
<path d="M457.16 296.3V298.9" stroke="#464646" stroke-width="1.2" fill="none"/>
<text transform="translate(457.66 305.6) scale(0.93 1)" font-size="6.2" fill="#404040" stroke="#404040" stroke-width="0.1" text-anchor="middle">32</text>
<path d="M465.59 296.3V298.9" stroke="#464646" stroke-width="1.2" fill="none"/>
<text transform="translate(466.09 305.6) scale(0.93 1)" font-size="6.2" fill="#404040" stroke="#404040" stroke-width="0.1" text-anchor="middle">34</text>
<path d="M474.03 296.3V298.9" stroke="#464646" stroke-width="1.2" fill="none"/>
<text transform="translate(474.53 305.6) scale(0.93 1)" font-size="6.2" fill="#404040" stroke="#404040" stroke-width="0.1" text-anchor="middle">36</text>
<path d="M482.46 296.3V298.9" stroke="#464646" stroke-width="1.2" fill="none"/>
<text transform="translate(482.96 305.6) scale(0.93 1)" font-size="6.2" fill="#404040" stroke="#404040" stroke-width="0.1" text-anchor="middle">38</text>
<path d="M490.9 296.3V298.9" stroke="#464646" stroke-width="1.2" fill="none"/>
<text transform="translate(491.4 305.6) scale(0.93 1)" font-size="6.2" fill="#404040" stroke="#404040" stroke-width="0.1" text-anchor="middle">40</text>
<path d="M499.33 296.3V298.9" stroke="#464646" stroke-width="1.2" fill="none"/>
<text transform="translate(499.83 305.6) scale(0.93 1)" font-size="6.2" fill="#404040" stroke="#404040" stroke-width="0.1" text-anchor="middle">42</text>
<path d="M507.77 296.3V298.9" stroke="#464646" stroke-width="1.2" fill="none"/>
<text transform="translate(508.27 305.6) scale(0.93 1)" font-size="6.2" fill="#404040" stroke="#404040" stroke-width="0.1" text-anchor="middle">44</text>
<path d="M516.2 296.3V298.9" stroke="#464646" stroke-width="1.2" fill="none"/>
<text transform="translate(516.7 305.6) scale(0.93 1)" font-size="6.2" fill="#404040" stroke="#404040" stroke-width="0.1" text-anchor="middle">46</text>
<text x="417.9" y="314.7" font-size="7.6" fill="#1a1a1a" stroke="#1a1a1a" stroke-width="0.16" font-weight="bold" text-anchor="middle">Survival time (months)</text>
<text x="378.9" y="191.8" font-size="6.43" fill="#2d3266" stroke="#2d3266" stroke-width="0.12" font-weight="bold">PD-L1 Positive</text>
<text x="378.9" y="199.5" font-size="6.43" fill="#3e4472" stroke="#3e4472" stroke-width="0.12">Median OS (95% CI), months = 14.0 (11.0–19.4)</text>
<text x="378.9" y="208.2" font-size="6.43" fill="#c2303e" stroke="#c2303e" stroke-width="0.12" font-weight="bold">PD-L1 Negative</text>
<text x="378.9" y="215.8" font-size="6.43" fill="#d25466" stroke="#d25466" stroke-width="0.12">Median OS (95% CI), months = 15.5 (12.4–18.7)</text>
<text x="273.8" y="319.2" font-size="6.5" fill="#1a1a1a" stroke="#1a1a1a" stroke-width="0.16" font-weight="bold">Number of patients at risk</text>
<text x="273.8" y="327.5" font-size="6.1" fill="#34408a" stroke="#34408a" stroke-width="0.12" font-weight="bold" textLength="40.3" lengthAdjust="spacingAndGlyphs">PD-L1 Positive</text>
<text x="273.8" y="335.3" font-size="6.1" fill="#cc3444" stroke="#cc3444" stroke-width="0.12" font-weight="bold" textLength="42.3" lengthAdjust="spacingAndGlyphs">PD-L1 Negative</text>
<text x="322.2" y="327.6" font-size="6.3" fill="#3e4472" stroke="#3e4472" stroke-width="0.1" text-anchor="middle">45</text>
<text x="322.2" y="335.4" font-size="6.3" fill="#d25466" stroke="#d25466" stroke-width="0.1" text-anchor="middle">44</text>
<text x="330.63" y="327.6" font-size="6.3" fill="#3e4472" stroke="#3e4472" stroke-width="0.1" text-anchor="middle">40</text>
<text x="330.63" y="335.4" font-size="6.3" fill="#d25466" stroke="#d25466" stroke-width="0.1" text-anchor="middle">43</text>
<text x="339.07" y="327.6" font-size="6.3" fill="#3e4472" stroke="#3e4472" stroke-width="0.1" text-anchor="middle">36</text>
<text x="339.07" y="335.4" font-size="6.3" fill="#d25466" stroke="#d25466" stroke-width="0.1" text-anchor="middle">40</text>
<text x="347.5" y="327.6" font-size="6.3" fill="#3e4472" stroke="#3e4472" stroke-width="0.1" text-anchor="middle">33</text>
<text x="347.5" y="335.4" font-size="6.3" fill="#d25466" stroke="#d25466" stroke-width="0.1" text-anchor="middle">35</text>
<text x="355.94" y="327.6" font-size="6.3" fill="#3e4472" stroke="#3e4472" stroke-width="0.1" text-anchor="middle">31</text>
<text x="355.94" y="335.4" font-size="6.3" fill="#d25466" stroke="#d25466" stroke-width="0.1" text-anchor="middle">31</text>
<text x="364.37" y="327.6" font-size="6.3" fill="#3e4472" stroke="#3e4472" stroke-width="0.1" text-anchor="middle">27</text>
<text x="364.37" y="335.4" font-size="6.3" fill="#d25466" stroke="#d25466" stroke-width="0.1" text-anchor="middle">28</text>
<text x="372.81" y="327.6" font-size="6.3" fill="#3e4472" stroke="#3e4472" stroke-width="0.1" text-anchor="middle">21</text>
<text x="372.81" y="335.4" font-size="6.3" fill="#d25466" stroke="#d25466" stroke-width="0.1" text-anchor="middle">24</text>
<text x="381.24" y="327.6" font-size="6.3" fill="#3e4472" stroke="#3e4472" stroke-width="0.1" text-anchor="middle">18</text>
<text x="381.24" y="335.4" font-size="6.3" fill="#d25466" stroke="#d25466" stroke-width="0.1" text-anchor="middle">20</text>
<text x="389.68" y="327.6" font-size="6.3" fill="#3e4472" stroke="#3e4472" stroke-width="0.1" text-anchor="middle">14</text>
<text x="389.68" y="335.4" font-size="6.3" fill="#d25466" stroke="#d25466" stroke-width="0.1" text-anchor="middle">12</text>
<text x="398.11" y="327.6" font-size="6.3" fill="#3e4472" stroke="#3e4472" stroke-width="0.1" text-anchor="middle">8</text>
<text x="398.11" y="335.4" font-size="6.3" fill="#d25466" stroke="#d25466" stroke-width="0.1" text-anchor="middle">8</text>
<text x="406.55" y="327.6" font-size="6.3" fill="#3e4472" stroke="#3e4472" stroke-width="0.1" text-anchor="middle">6</text>
<text x="406.55" y="335.4" font-size="6.3" fill="#d25466" stroke="#d25466" stroke-width="0.1" text-anchor="middle">5</text>
<text x="414.98" y="327.6" font-size="6.3" fill="#3e4472" stroke="#3e4472" stroke-width="0.1" text-anchor="middle">6</text>
<text x="414.98" y="335.4" font-size="6.3" fill="#d25466" stroke="#d25466" stroke-width="0.1" text-anchor="middle">5</text>
<text x="423.42" y="327.6" font-size="6.3" fill="#3e4472" stroke="#3e4472" stroke-width="0.1" text-anchor="middle">6</text>
<text x="423.42" y="335.4" font-size="6.3" fill="#d25466" stroke="#d25466" stroke-width="0.1" text-anchor="middle">4</text>
<text x="431.85" y="327.6" font-size="6.3" fill="#3e4472" stroke="#3e4472" stroke-width="0.1" text-anchor="middle">6</text>
<text x="431.85" y="335.4" font-size="6.3" fill="#d25466" stroke="#d25466" stroke-width="0.1" text-anchor="middle">3</text>
<text x="440.29" y="327.6" font-size="6.3" fill="#3e4472" stroke="#3e4472" stroke-width="0.1" text-anchor="middle">6</text>
<text x="440.29" y="335.4" font-size="6.3" fill="#d25466" stroke="#d25466" stroke-width="0.1" text-anchor="middle">3</text>
<text x="448.72" y="327.6" font-size="6.3" fill="#3e4472" stroke="#3e4472" stroke-width="0.1" text-anchor="middle">6</text>
<text x="448.72" y="335.4" font-size="6.3" fill="#d25466" stroke="#d25466" stroke-width="0.1" text-anchor="middle">3</text>
<text x="457.16" y="327.6" font-size="6.3" fill="#3e4472" stroke="#3e4472" stroke-width="0.1" text-anchor="middle">6</text>
<text x="457.16" y="335.4" font-size="6.3" fill="#d25466" stroke="#d25466" stroke-width="0.1" text-anchor="middle">3</text>
<text x="465.59" y="327.6" font-size="6.3" fill="#3e4472" stroke="#3e4472" stroke-width="0.1" text-anchor="middle">6</text>
<text x="465.59" y="335.4" font-size="6.3" fill="#d25466" stroke="#d25466" stroke-width="0.1" text-anchor="middle">2</text>
<text x="474.03" y="327.6" font-size="6.3" fill="#3e4472" stroke="#3e4472" stroke-width="0.1" text-anchor="middle">6</text>
<text x="474.03" y="335.4" font-size="6.3" fill="#d25466" stroke="#d25466" stroke-width="0.1" text-anchor="middle">2</text>
<text x="482.46" y="327.6" font-size="6.3" fill="#3e4472" stroke="#3e4472" stroke-width="0.1" text-anchor="middle">6</text>
<text x="482.46" y="335.4" font-size="6.3" fill="#d25466" stroke="#d25466" stroke-width="0.1" text-anchor="middle">2</text>
<text x="490.9" y="327.6" font-size="6.3" fill="#3e4472" stroke="#3e4472" stroke-width="0.1" text-anchor="middle">4</text>
<text x="490.9" y="335.4" font-size="6.3" fill="#d25466" stroke="#d25466" stroke-width="0.1" text-anchor="middle">1</text>
<text x="499.33" y="327.6" font-size="6.3" fill="#3e4472" stroke="#3e4472" stroke-width="0.1" text-anchor="middle">2</text>
<text x="499.33" y="335.4" font-size="6.3" fill="#d25466" stroke="#d25466" stroke-width="0.1" text-anchor="middle">0</text>
<text x="507.77" y="327.6" font-size="6.3" fill="#3e4472" stroke="#3e4472" stroke-width="0.1" text-anchor="middle">0</text>
<text x="507.77" y="335.4" font-size="6.3" fill="#d25466" stroke="#d25466" stroke-width="0.1" text-anchor="middle">0</text>
<text x="516.2" y="327.6" font-size="6.3" fill="#3e4472" stroke="#3e4472" stroke-width="0.1" text-anchor="middle">0</text>
<text x="516.2" y="335.4" font-size="6.3" fill="#d25466" stroke="#d25466" stroke-width="0.1" text-anchor="middle">0</text>
<path d="M321.4 190.2H330.5V194.4H336.3V196.8H339.4V202.9H341.3V206.6H349.4V214.2H355.5V216.6H359V218.9H365.5V222.7H367.8V224.8H374.6V230.4H380V238.9H384V241.9H388.5V245.4H391V249.6H395.5V259.1H401.3V266.6H406.3V272.4H422V276.6H425V280.9H460.5V285.9H498.8" stroke="#cb6074" stroke-width="1.4" fill="none"/>
<path d="M321.4 190.2H323.2V192.4H324.5V194.9H325.8V197.4H327.5V199.4H329V200.9H331V202.4H333V204.2H335V206.2H337.5V207.7H340V210.4H342.8V215.4H348.5V218.1H352.8V220.6H357V222.7H360V225.4H368.5V231.2H375.4V235.8H378.5V240.4H381.5V243.4H388.5V245.8H391.5V249.8H403.5V260.9H503" stroke="#5a5e82" stroke-width="1.4" fill="none"/>
<path d="M345 204.8V207.6" stroke="#b23a50" stroke-width="1.3" fill="none"/>
<path d="M364.6 217.5V220.3" stroke="#b23a50" stroke-width="1.3" fill="none"/>
<path d="M387 240.5V243.3" stroke="#b23a50" stroke-width="1.3" fill="none"/>
<path d="M488.8 284.5V287.3" stroke="#b23a50" stroke-width="1.3" fill="none"/>
<path d="M498.8 284.5V287.3" stroke="#b23a50" stroke-width="1.3" fill="none"/>
<path d="M321.6 188.8V191.6" stroke="#2c2f5c" stroke-width="1.3" fill="none"/>
<path d="M361.3 221.7V224.5" stroke="#2c2f5c" stroke-width="1.3" fill="none"/>
<path d="M393.8 248.4V251.2" stroke="#2c2f5c" stroke-width="1.3" fill="none"/>
<path d="M397 248.4V251.2" stroke="#2c2f5c" stroke-width="1.3" fill="none"/>
<path d="M488 259.5V262.3" stroke="#2c2f5c" stroke-width="1.3" fill="none"/>
<path d="M494.8 259.5V262.3" stroke="#2c2f5c" stroke-width="1.3" fill="none"/>
<path d="M497.5 259.5V262.3" stroke="#2c2f5c" stroke-width="1.3" fill="none"/>
<path d="M499.9 259.5V262.3" stroke="#2c2f5c" stroke-width="1.3" fill="none"/>
<path d="M502.9 259.5V262.3" stroke="#2c2f5c" stroke-width="1.3" fill="none"/>
</g></svg>
</body></html>
